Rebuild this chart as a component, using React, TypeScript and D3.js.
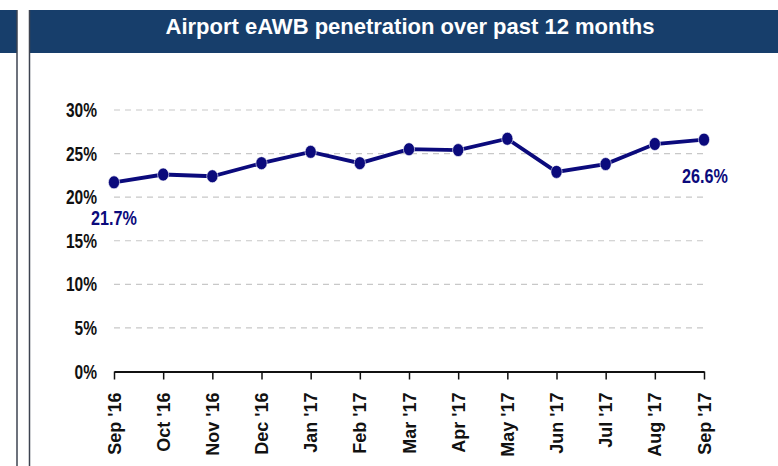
import React, { useEffect, useRef } from 'react';
import * as d3 from 'd3';

// Airport eAWB penetration, monthly, Sep '16 - Sep '17

const months = [
  "Sep '16", "Oct '16", "Nov '16", "Dec '16", "Jan '17", "Feb '17", "Mar '17",
  "Apr '17", "May '17", "Jun '17", "Jul '17", "Aug '17", "Sep '17",
];
const penetration = [21.7, 22.6, 22.4, 23.9, 25.2, 23.9, 25.5, 25.4, 26.7, 22.9, 23.8, 26.1, 26.6];
const yTicks = [0, 5, 10, 15, 20, 25, 30];
const title = 'Airport eAWB penetration over past 12 months';

const W = 778;
const H = 466;
const navy = '#0b0a7c';
const headerBlue = '#173e6b';
const font = "'Liberation Sans', Arial, sans-serif";

const App = () => {
  const svgRef = useRef<SVGSVGElement>(null);

  useEffect(() => {
    const svg = d3.select(svgRef.current);
    svg.selectAll('*').remove();

    const margin = { top: 110, right: 74, bottom: 94.5, left: 114 };

    const x = d3
      .scalePoint<string>()
      .domain(months)
      .range([margin.left, W - margin.right]);

    const y = d3
      .scaleLinear()
      .domain([0, 30])
      .range([H - margin.bottom, margin.top]);

    // panel frames
    svg.append('rect').attr('x', 0).attr('y', 10).attr('width', 17).attr('height', 43).attr('fill', headerBlue);
    svg.append('line').attr('x1', 17).attr('x2', 17).attr('y1', 10).attr('y2', H)
      .attr('stroke', '#3d4350').attr('stroke-width', 1.5);
    svg.append('rect').attr('x', 29).attr('y', 10).attr('width', W - 29).attr('height', 43).attr('fill', headerBlue);
    svg.append('line').attr('x1', 29.5).attr('x2', 29.5).attr('y1', 10).attr('y2', H)
      .attr('stroke', '#3d4350').attr('stroke-width', 1.5);

    svg.append('text')
      .attr('x', 410)
      .attr('y', 34)
      .attr('text-anchor', 'middle')
      .attr('fill', '#fff')
      .attr('font-family', font)
      .attr('font-weight', 'bold')
      .attr('font-size', 22)
      .text(title);

    // gridlines
    svg.append('g')
      .selectAll('line')
      .data(yTicks.filter(t => t > 0))
      .enter()
      .append('line')
      .attr('x1', margin.left)
      .attr('x2', W - margin.right)
      .attr('y1', d => y(d))
      .attr('y2', d => y(d))
      .attr('stroke', '#c8c8c8')
      .attr('stroke-width', 1.2)
      .attr('stroke-dasharray', '6,5');

    // y axis labels (condensed)
    svg.append('g')
      .selectAll('text')
      .data(yTicks)
      .enter()
      .append('text')
      .attr('transform', d => `translate(97, ${y(d) + 7}) scale(0.74, 1)`)
      .attr('text-anchor', 'end')
      .attr('font-family', font)
      .attr('font-weight', 'bold')
      .attr('font-size', 21)
      .attr('fill', '#111')
      .text(d => `${d}%`);

    // x axis
    const xAxis = svg.append('g')
      .attr('transform', `translate(0, ${y(0)})`)
      .call(d3.axisBottom(x).tickSize(8).tickSizeOuter(0).tickFormat(() => ''));
    xAxis.select('.domain').attr('stroke', '#111').attr('stroke-width', 2.2);
    xAxis.selectAll('.tick line').attr('stroke', '#111').attr('stroke-width', 1.5);

    svg.append('g')
      .selectAll('text')
      .data(months)
      .enter()
      .append('text')
      .attr('transform', d => `translate(${(x(d) as number) + 6.5}, ${y(0) + 21}) rotate(-90)`)
      .attr('text-anchor', 'end')
      .attr('font-family', font)
      .attr('font-weight', 'bold')
      .attr('font-size', 18)
      .attr('fill', '#111')
      .text(d => d);

    // line + markers
    const line = d3.line<number>()
      .x((_, i) => x(months[i]) as number)
      .y(d => y(d));

    svg.append('path')
      .datum(penetration)
      .attr('d', line)
      .attr('fill', 'none')
      .attr('stroke', navy)
      .attr('stroke-width', 3.8);

    svg.append('g')
      .selectAll('ellipse')
      .data(penetration)
      .enter()
      .append('ellipse')
      .attr('cx', (_, i) => x(months[i]) as number)
      .attr('cy', d => y(d))
      .attr('rx', 5.6)
      .attr('ry', 6.5)
      .attr('fill', navy)
      .attr('stroke', '#fff')
      .attr('stroke-width', 0.6);

    // end labels (condensed)
    const ends = [
      { v: penetration[0], cx: x(months[0]) as number },
      { v: penetration[penetration.length - 1], cx: (x(months[months.length - 1]) as number) + 1 },
    ];
    svg.append('g')
      .selectAll('text')
      .data(ends)
      .enter()
      .append('text')
      .attr('transform', d => `translate(${d.cx}, ${y(d.v) + 43}) scale(0.77, 1)`)
      .attr('text-anchor', 'middle')
      .attr('font-family', font)
      .attr('font-weight', 'bold')
      .attr('font-size', 21)
      .attr('fill', navy)
      .text(d => `${d.v.toFixed(1)}%`);
  }, []);

  return (
    <svg
      ref={svgRef}
      width={W}
      height={H}
      style={{ position: 'absolute', left: 0, top: 0, display: 'block', background: '#fff' }}
    />
  );
};

export default App;
